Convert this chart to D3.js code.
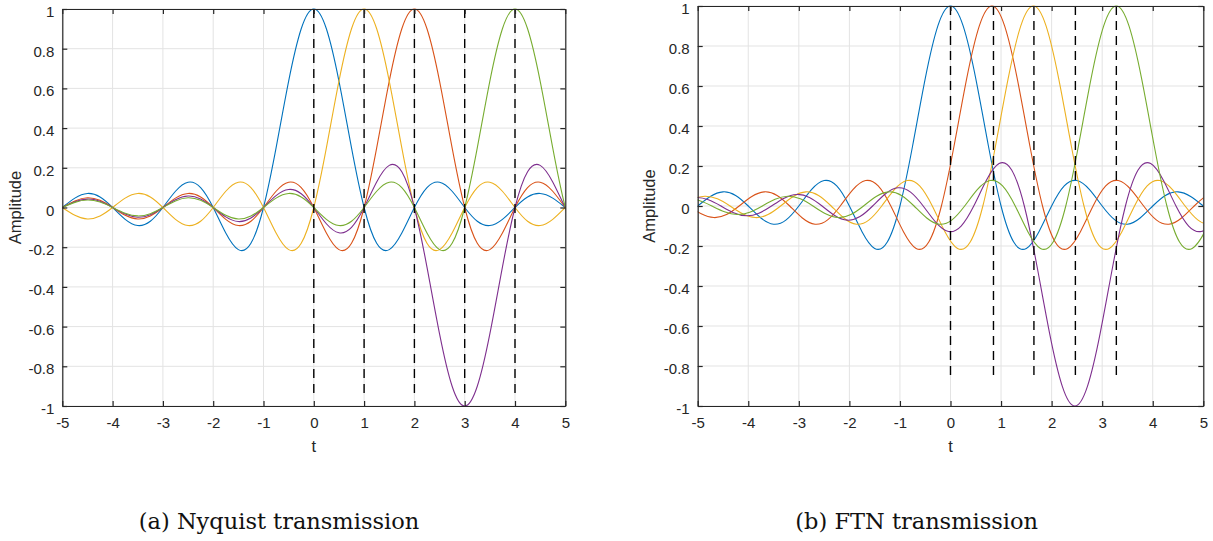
<!DOCTYPE html>
<html>
<head>
<meta charset="utf-8">
<script src="https://cdn.jsdelivr.net/npm/d3@7"></script>
<style>
  html, body { margin: 0; padding: 0; background: #fff; }
  svg { display: block; }
</style>
</head>
<body>
<svg id="chart" width="1213" height="541"></svg>
<script>
// ---------------- data ----------------
const xTicks = [-5, -4, -3, -2, -1, 0, 1, 2, 3, 4, 5];
const xTickLabels = ["-5", "-4", "-3", "-2", "-1", "0", "1", "2", "3", "4", "5"];
const yTicks = [-1, -0.8, -0.6, -0.4, -0.2, 0, 0.2, 0.4, 0.6, 0.8, 1];
const yTickLabels = ["-1", "-0.8", "-0.6", "-0.4", "-0.2", "0", "0.2", "0.4", "0.6", "0.8", "1"];

// pulse shape (value vs distance from pulse centre, in t units)
const pulseOffsets = [0, 0.25, 0.5, 0.75, 1, 1.25, 1.5, 1.75, 2, 2.25, 2.5, 2.75, 3, 3.25, 3.5, 3.75,
  4, 4.25, 4.5, 4.75, 5, 5.25, 5.5, 5.75, 6, 6.25, 6.5, 6.75, 7, 7.25, 7.5, 7.75,
  8, 8.25, 8.5, 8.75, 9, 9.25, 9.5, 9.75, 10];
const pulseShape = [1, 0.90032, 0.63662, 0.30011, 0, -0.18006, -0.21221, -0.12862,
  0, 0.10004, 0.12732, 0.08185, 0, -0.06926, -0.09095, -0.06002,
  0, 0.05296, 0.07074, 0.04739, 0, -0.04287, -0.05787, -0.03914,
  0, 0.03601, 0.04897, 0.03334, 0, -0.03105, -0.04244, -0.02904,
  0, 0.02728, 0.03745, 0.02572, 0, -0.02433, -0.03351, -0.02309, 0];

// (a) Nyquist: pulse centres (in plotting order) and amplitudes
const nyquistCenters = [0, 2, 1, 3, 4];
const nyquistAmps = [1, 1, 1, -1, 1];
const nyquistMarkers = [0, 1, 2, 3, 4];
const nyquistMarkerRange = [1, -0.95];

// (b) FTN: pulse centres and amplitudes
const ftnCenters = [0, 0.82, 1.64, 2.46, 3.28];
const ftnAmps = [1, 1, 1, -1, 1];
const ftnMarkers = [0, 0.85, 1.65, 2.47, 3.28];
const ftnMarkerRange = [1, -0.85];

const captions = ["(a) Nyquist transmission", "(b) FTN transmission"];
const xLabel = "t";
const yLabel = "Amplitude";

// ---------------- style ----------------
const seriesColors = ["#0072BD", "#D95319", "#EDB120", "#7E2F8E", "#77AC30"];
const axisColor = "#262626";
const gridColor = "#e3e3e3";
const tickFont = "Liberation Sans, Arial, Helvetica, sans-serif";

const svg = d3.select("#chart");

function drawPanel(opts) {
  const { left, right, top, bottom, centers, amps, markers, markerRange,
          caption, captionX, ylabelX, id } = opts;
  const x = d3.scaleLinear().domain([-5, 5]).range([left, right]);
  const y = d3.scaleLinear().domain([-1, 1]).range([bottom, top]);
  const g = svg.append("g");

  g.append("clipPath").attr("id", "clip" + id)
    .append("rect").attr("x", left).attr("y", top - 1)
    .attr("width", right - left).attr("height", bottom - top + 2);

  // grid
  g.append("g").selectAll("line").data(xTicks).join("line")
    .attr("x1", d => x(d)).attr("x2", d => x(d))
    .attr("y1", top).attr("y2", bottom)
    .attr("stroke", gridColor).attr("stroke-width", 1);
  g.append("g").selectAll("line").data(yTicks).join("line")
    .attr("x1", left).attr("x2", right)
    .attr("y1", d => y(d)).attr("y2", d => y(d))
    .attr("stroke", gridColor).attr("stroke-width", 1);

  // curves
  const line = d3.line().x(d => x(d[0])).y(d => y(d[1])).curve(d3.curveNatural);
  const curves = g.append("g").attr("clip-path", `url(#clip${id})`);
  centers.forEach((c, i) => {
    const pts = [];
    for (let k = pulseOffsets.length - 1; k > 0; k--) {
      pts.push([c - pulseOffsets[k], amps[i] * pulseShape[k]]);
    }
    for (let k = 0; k < pulseOffsets.length; k++) {
      pts.push([c + pulseOffsets[k], amps[i] * pulseShape[k]]);
    }
    curves.append("path").datum(pts)
      .attr("d", line)
      .attr("fill", "none")
      .attr("stroke", seriesColors[i])
      .attr("stroke-width", 1.1);
  });

  // dashed markers
  g.append("g").selectAll("line").data(markers).join("line")
    .attr("x1", d => x(d)).attr("x2", d => x(d))
    .attr("y1", y(markerRange[0])).attr("y2", y(markerRange[1]))
    .attr("stroke", "#000").attr("stroke-width", 1.4)
    .attr("stroke-dasharray", "9,6");

  // axes (box with inward ticks)
  const tl = 5;
  const axB = d3.axisBottom(x).tickValues(xTicks).tickFormat((d, i) => xTickLabels[i])
    .tickSizeInner(-tl).tickSizeOuter(0).tickPadding(12);
  const axT = d3.axisTop(x).tickValues(xTicks).tickFormat("")
    .tickSizeInner(-tl).tickSizeOuter(0);
  const axL = d3.axisLeft(y).tickValues(yTicks).tickFormat((d, i) => yTickLabels[i])
    .tickSizeInner(-tl).tickSizeOuter(0).tickPadding(12);
  const axR = d3.axisRight(y).tickValues(yTicks).tickFormat("")
    .tickSizeInner(-tl).tickSizeOuter(0);

  const styleAxis = sel => {
    sel.selectAll("path, line").attr("stroke", axisColor).attr("stroke-width", 1.2);
    sel.selectAll("text").attr("fill", axisColor)
      .style("font-family", tickFont).style("font-size", "15px");
  };
  g.append("g").attr("transform", `translate(0,${bottom})`).call(axB).call(styleAxis)
    .selectAll("text").attr("dy", "0.71em").attr("y", 11);
  g.append("g").attr("transform", `translate(0,${top})`).call(axT).call(styleAxis);
  g.append("g").attr("transform", `translate(${left},0)`).call(axL).call(styleAxis)
    .selectAll("text").attr("dy", "0.38em").attr("x", -8).attr("y", 1.8);
  g.append("g").attr("transform", `translate(${right},0)`).call(axR).call(styleAxis);
  g.selectAll(".domain").attr("stroke", axisColor);

  // axis labels
  g.append("text").text(xLabel)
    .attr("x", x(0)).attr("y", 451.5)
    .attr("text-anchor", "middle")
    .attr("fill", axisColor)
    .style("font-family", tickFont).style("font-size", "16.5px");
  g.append("text").text(yLabel)
    .attr("transform", `translate(${ylabelX},${(top + bottom) / 2}) rotate(-90)`)
    .attr("text-anchor", "middle")
    .attr("dy", "0.35em")
    .attr("fill", axisColor)
    .style("font-family", tickFont).style("font-size", "16.5px");

  // caption
  g.append("text").text(caption)
    .attr("x", captionX).attr("y", 529)
    .attr("text-anchor", "middle")
    .attr("fill", "#111")
    .style("font-family", "DejaVu Serif, serif").style("font-size", "22.5px");
}

drawPanel({
  id: "a", left: 62.3, right: 565.3, top: 9, bottom: 406,
  centers: nyquistCenters, amps: nyquistAmps,
  markers: nyquistMarkers, markerRange: nyquistMarkerRange,
  caption: captions[0], captionX: 279, ylabelX: 15
});
drawPanel({
  id: "b", left: 697.7, right: 1203.3, top: 6, bottom: 406,
  centers: ftnCenters, amps: ftnAmps,
  markers: ftnMarkers, markerRange: ftnMarkerRange,
  caption: captions[1], captionX: 916.7, ylabelX: 649
});
</script>
</body>
</html>
